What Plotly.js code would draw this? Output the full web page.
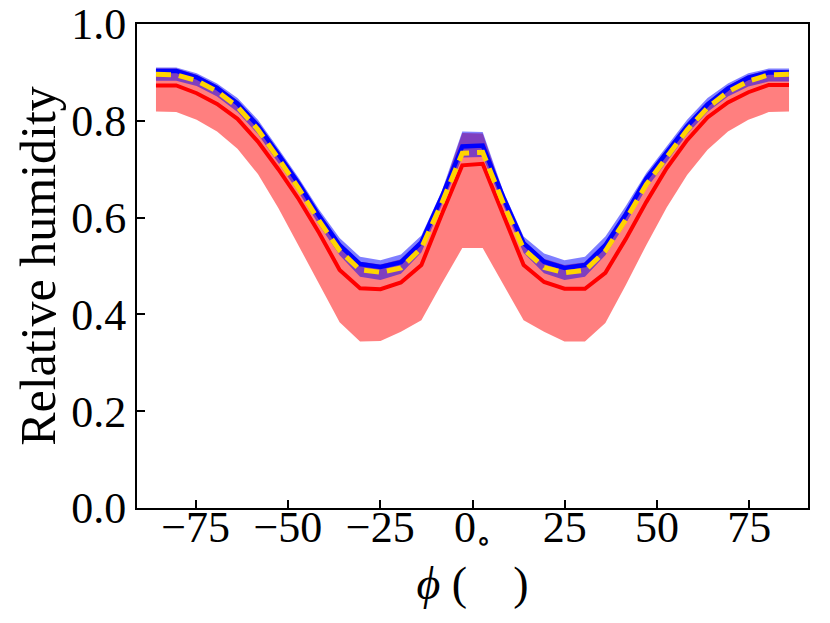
<!DOCTYPE html>
<html>
<head>
<meta charset="utf-8">
<script src="https://cdn.plot.ly/plotly-3.0.1.min.js"></script>
<style>
    html, body { margin: 0; padding: 0; background: #ffffff; }
    #chart { width: 830px; height: 623px; }
</style>
</head>
<body>
<div id="chart"></div>
<script>
// latitudes (Gaussian grid), degrees
const latitude = [
    -85.76, -80.27, -74.74, -69.21, -63.68, -58.14, -52.61, -47.07,
    -41.54, -36.00, -30.47, -24.93, -19.39, -13.85, -8.31, -2.77,
    2.77, 8.31, 13.85, 19.39, 24.93, 30.47, 36.00, 41.54,
    47.07, 52.61, 58.14, 63.68, 69.21, 74.74, 80.27, 85.76,
];

// red series: mean and range
const redMean = [
    0.873, 0.873, 0.857, 0.835, 0.804, 0.757, 0.700, 0.638,
    0.568, 0.492, 0.454, 0.452, 0.466, 0.502, 0.607, 0.708,
    0.711, 0.609, 0.502, 0.467, 0.453, 0.453, 0.486, 0.556,
    0.632, 0.702, 0.760, 0.807, 0.838, 0.859, 0.874, 0.874,
];
const redLow = [
    0.819, 0.818, 0.802, 0.778, 0.742, 0.690, 0.620, 0.541,
    0.462, 0.384, 0.344, 0.345, 0.364, 0.388, 0.464, 0.537,
    0.537, 0.464, 0.388, 0.364, 0.344, 0.344, 0.382, 0.461,
    0.543, 0.621, 0.688, 0.740, 0.778, 0.802, 0.818, 0.819,
];
const redHigh = [
    0.908, 0.908, 0.895, 0.873, 0.841, 0.795, 0.736, 0.675,
    0.608, 0.548, 0.509, 0.503, 0.514, 0.554, 0.650, 0.775,
    0.774, 0.650, 0.552, 0.515, 0.502, 0.508, 0.548, 0.612,
    0.685, 0.739, 0.794, 0.839, 0.872, 0.894, 0.905, 0.905,
];

// blue series: mean and range
const blueMean = [
    0.903, 0.903, 0.890, 0.868, 0.836, 0.790, 0.731, 0.670,
    0.603, 0.543, 0.504, 0.498, 0.508, 0.549, 0.643, 0.747,
    0.749, 0.643, 0.547, 0.509, 0.496, 0.502, 0.543, 0.607,
    0.680, 0.734, 0.789, 0.834, 0.867, 0.889, 0.900, 0.900,
];
const blueLow = [
    0.883, 0.883, 0.872, 0.850, 0.818, 0.772, 0.713, 0.652,
    0.584, 0.522, 0.478, 0.471, 0.484, 0.528, 0.626, 0.724,
    0.725, 0.626, 0.527, 0.485, 0.471, 0.478, 0.522, 0.588,
    0.660, 0.715, 0.772, 0.818, 0.850, 0.871, 0.881, 0.881,
];
const blueHigh = [
    0.910, 0.910, 0.898, 0.877, 0.847, 0.802, 0.743, 0.682,
    0.616, 0.558, 0.519, 0.512, 0.524, 0.563, 0.655, 0.778,
    0.777, 0.655, 0.561, 0.526, 0.512, 0.519, 0.561, 0.624,
    0.692, 0.746, 0.802, 0.847, 0.877, 0.898, 0.908, 0.908,
];

// yellow dashed series
const yellowMean = [
    0.896, 0.895, 0.883, 0.861, 0.829, 0.782, 0.722, 0.660,
    0.593, 0.532, 0.492, 0.487, 0.496, 0.537, 0.630, 0.733,
    0.735, 0.630, 0.535, 0.497, 0.486, 0.491, 0.531, 0.596,
    0.668, 0.724, 0.781, 0.827, 0.860, 0.882, 0.895, 0.896,
];

const xTicks = [-75, -50, -25, 0, 25, 50, 75];
const xTickText = ["−75", "−50", "−25", "0<sub>∘</sub>", "25", "50", "75"];
const yTicks = [0.0, 0.2, 0.4, 0.6, 0.8, 1.0];

const FONT = "Liberation Serif, DejaVu Serif, serif";

function bandTraces(low, high, fillColor) {
    return [
        {
            type: "scatter",
            mode: "lines",
            x: latitude,
            y: low,
            line: { width: 0, color: fillColor },
            hoverinfo: "skip",
            showlegend: false,
        },
        {
            type: "scatter",
            mode: "lines",
            x: latitude,
            y: high,
            fill: "tonexty",
            fillcolor: fillColor,
            line: { width: 0, color: fillColor },
            hoverinfo: "skip",
            showlegend: false,
        },
    ];
}

function lineTrace(values, color, width, dash) {
    return {
        type: "scatter",
        mode: "lines",
        x: latitude,
        y: values,
        line: { color: color, width: width, dash: dash || "solid" },
        showlegend: false,
    };
}

const traces = [
    ...bandTraces(redLow, redHigh, "rgba(255, 0, 0, 0.5)"),
    ...bandTraces(blueLow, blueHigh, "rgba(0, 0, 255, 0.5)"),
    lineTrace(redMean, "#ff0000", 4),
    lineTrace(blueMean, "#0000ff", 4.5),
    lineTrace(yellowMean, "#ffd400", 5, "15px,8px"),
];

const layout = {
    width: 830,
    height: 623,
    margin: { l: 137, r: 22, t: 24, b: 115 },
    paper_bgcolor: "#ffffff",
    plot_bgcolor: "#ffffff",
    font: { family: FONT, color: "#000000", size: 44 },
    showlegend: false,
    xaxis: {
        range: [-90.9, 90.9],
        tickvals: xTicks,
        ticktext: xTickText,
        ticks: "inside",
        ticklen: 8,
        tickwidth: 2,
        tickcolor: "#000000",
        ticklabelstandoff: -21,
        showline: true,
        linecolor: "#000000",
        linewidth: 2,
        mirror: true,
        showgrid: false,
        zeroline: false,
        tickfont: { family: FONT, size: 44 },
        title: {
            text: "<i>ϕ</i> (    )",
            font: { family: FONT, size: 46 },
            standoff: 0,
        },
    },
    yaxis: {
        range: [0, 1],
        tickvals: yTicks,
        tickformat: ".1f",
        ticks: "inside",
        ticklen: 8,
        tickwidth: 2,
        tickcolor: "#000000",
        showline: true,
        linecolor: "#000000",
        linewidth: 2,
        mirror: true,
        showgrid: false,
        zeroline: false,
        tickfont: { family: FONT, size: 44 },
        title: {
            text: "Relative humidity",
            font: { family: FONT, size: 50 },
            standoff: 0,
        },
    },
};

Plotly.newPlot("chart", traces, layout, { displayModeBar: false, staticPlot: true });
</script>
</body>
</html>
